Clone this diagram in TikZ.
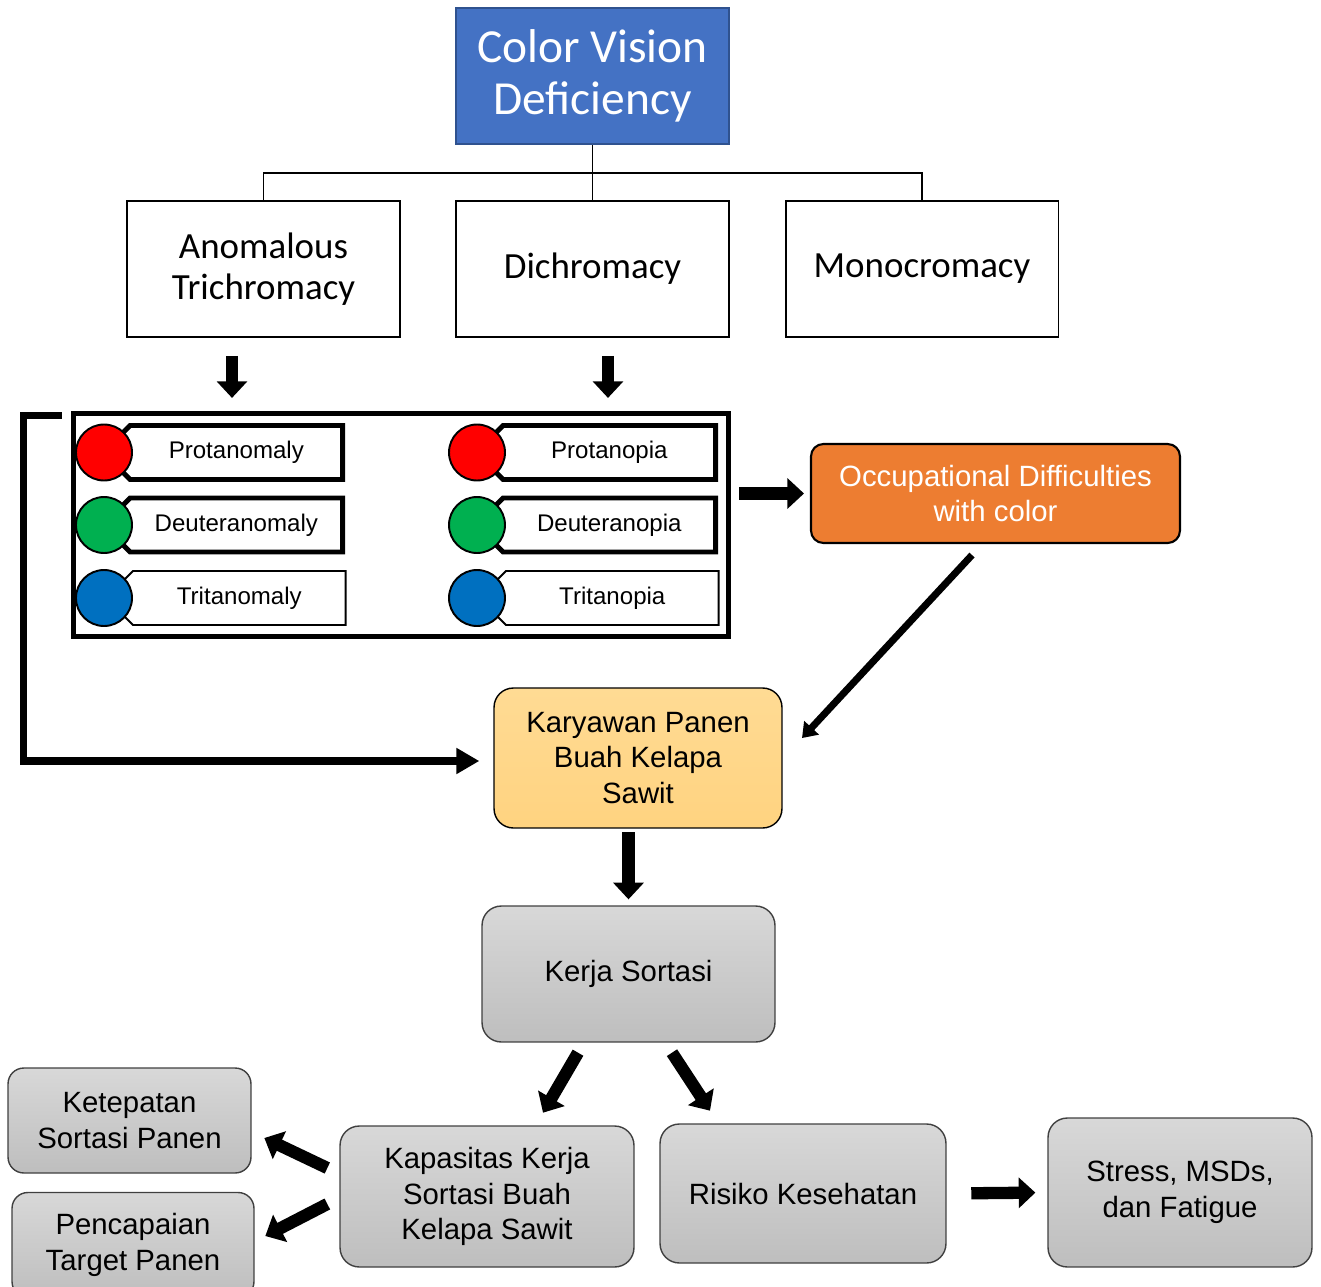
\documentclass[tikz,border=0pt]{standalone}
\usepackage{fontspec}
\setmainfont{Liberation Sans}
\newfontfamily\calibrifont{Carlito}
\usetikzlibrary{arrows.meta,shapes.symbols}
\definecolor{cvdblue}{RGB}{68,114,196}
\definecolor{cvdedge}{RGB}{47,82,143}
\definecolor{occorange}{RGB}{237,125,49}
\definecolor{karytop}{RGB}{255,219,148}
\definecolor{karybot}{RGB}{255,211,128}
\definecolor{greytop}{RGB}{216,216,216}
\definecolor{greybot}{RGB}{190,190,190}
\definecolor{greyedge}{RGB}{64,64,64}
\definecolor{dotred}{RGB}{255,0,0}
\definecolor{dotgreen}{RGB}{0,176,80}
\definecolor{dotblue}{RGB}{0,112,192}

\begin{document}
\begin{tikzpicture}[x=0.02cm,y=-0.02cm]
    % `title' is the blue box on top, `kind' the three white boxes under it.
    % `dot' and `tag' make the coloured labels inside the big frame.
    % `soft' and `grey' are the rounded boxes further down.
    \tikzstyle{title} = [draw=cvdedge,fill=cvdblue,line width=1.2pt,minimum width=5.46cm,minimum height=2.72cm,align=center,text=white,font=\calibrifont\fontsize{27}{30}\selectfont]
    \tikzstyle{kind} = [draw,line width=1.1pt,minimum width=5.46cm,minimum height=2.72cm,align=center,font=\calibrifont\fontsize{21}{23}\selectfont]
    \tikzstyle{dot} = [draw,circle,line width=1.1pt,minimum size=1.12cm,inner sep=0pt]
    \tikzstyle{tag} = [draw,fill=white,shape=signal,signal to=west,signal pointer angle=90,line width=2.8pt,text width=4.25cm,inner xsep=0pt,minimum height=1.08cm,align=center,anchor=east,font=\fontsize{13.7}{16}\selectfont]
    \tikzstyle{soft} = [draw,line width=0.8pt,rounded corners=11pt,align=center,font=\fontsize{16.7}{20.4}\selectfont]
    \tikzstyle{grey} = [soft,draw=greyedge,top color=greytop,bottom color=greybot]
    \tikzstyle{fat} = [line width=7pt,-{Triangle[length=9.5pt,width=17pt]}]
    \tikzstyle{slim} = [line width=4pt,-{Triangle[length=8pt,width=11pt]}]
    \useasboundingbox (0,0) rectangle (1321,1287);
    %
    \node[title] (cvd) at (592.5,76) {Color Vision\\Deficiency};
    \node[kind] (anom) at (263.5,269) {Anomalous\\Trichromacy};
    \node[kind] (dich) at (592.5,269) {Dichromacy};
    \node[kind] (mono) at (922,269) {Monocromacy};
    \draw[line width=1.1pt] (cvd.south) -- (dich.north)
        (cvd.south) ++(0,28) -| (anom.north)
        (cvd.south) ++(0,28) -| (mono.north);
    \draw[fat] ([xshift=-0.63cm,yshift=-0.36cm]anom.south) -- ++(0,42);
    \draw[fat] ([xshift=0.31cm,yshift=-0.36cm]dich.south) -- ++(0,42);
    %
    % Big frame with the six kinds.
    \node[draw,line width=2.8pt,minimum width=13.1cm,minimum height=4.46cm] (types) at (401,525) {};
    \node[tag] (pam) at (345,452.5) {Protanomaly};
    \node[tag] (dam) at (345,525) {Deuteranomaly};
    \node[tag,line width=1.1pt] (tam) at (346.5,598) {Tritanomaly};
    \node[tag] (pap) at (718,452.5) {Protanopia};
    \node[tag] (dap) at (718,525) {Deuteranopia};
    \node[tag,line width=1.1pt] (tap) at (719.5,598) {Tritanopia};
    \node[dot,fill=dotred] (pamdot) at (104,452.5) {};
    \node[dot,fill=dotgreen] (damdot) at (104,525) {};
    \node[dot,fill=dotblue] (tamdot) at (104,598) {};
    \node[dot,fill=dotred] (papdot) at (477,452.5) {};
    \node[dot,fill=dotgreen] (dapdot) at (477,525) {};
    \node[dot,fill=dotblue] (tapdot) at (477,598) {};
    %
    \node[soft,draw=black,line width=1.2pt,rounded corners=7pt,fill=occorange,text=white,minimum width=7.38cm,minimum height=1.98cm] (occ) at (995.5,493.5) {Occupational Difficulties\\with color};
    \node[soft,top color=karytop,bottom color=karybot,minimum width=5.76cm,minimum height=2.8cm] (kary) at (638,758) {Karyawan Panen\\Buah Kelapa\\Sawit};
    \node[grey,minimum width=5.86cm,minimum height=2.72cm] (sort) at (628.5,974) {Kerja Sortasi};
    \node[grey,minimum width=5.88cm,minimum height=2.82cm] (kap) at (487,1196.5) {Kapasitas Kerja\\Sortasi Buah\\Kelapa Sawit};
    \node[grey,minimum width=5.72cm,minimum height=2.78cm] (risk) at (803,1193.5) {Risiko Kesehatan};
    \node[grey,minimum width=5.28cm,minimum height=2.98cm] (stress) at (1180,1192.5) {Stress, MSDs,\\dan Fatigue};
    \node[grey,rounded corners=9pt,minimum width=4.86cm,minimum height=2.1cm] (ket) at (129.5,1120.5) {Ketepatan\\Sortasi Panen};
    \node[grey,rounded corners=9pt,minimum width=4.84cm,minimum height=2.1cm] (pen) at (133,1245) {Pencapaian\\Target Panen};
    %
    % Arrows.
    \draw[fat,shorten <=4.8pt,shorten >=3.4pt] (types.east |- occ.west) -- (occ.west);
    \draw[slim] ([xshift=-0.47cm,yshift=-0.22cm]occ.south) -- ++(-170,183);
    \draw[line width=4.2pt,-{Triangle[length=13pt,width=14pt]}] ([xshift=-0.19cm,yshift=-0.09cm]types.north west) -- ++(-38,0) |- ([xshift=-0.28cm,yshift=-0.06cm]kary.west);
    \draw[fat,shorten <=2pt,shorten >=3.4pt] (sort.north |- kary.south) -- (sort.north);
    \draw[fat] ([xshift=-1.01cm,yshift=-0.2cm]sort.south) -- ++(-35,60);
    \draw[fat] ([xshift=0.87cm,yshift=-0.2cm]sort.south) -- ++(38,58);
    \draw[fat] ([xshift=-0.24cm,yshift=0.57cm]kap.west) -- ++(-63,-30);
    \draw[fat] ([xshift=-0.24cm,yshift=-0.15cm]kap.west) -- ++(-62,32);
    \draw[fat,shorten <=14pt,shorten >=6.8pt] (risk.east) -- (stress.west);
\end{tikzpicture}
\end{document}
